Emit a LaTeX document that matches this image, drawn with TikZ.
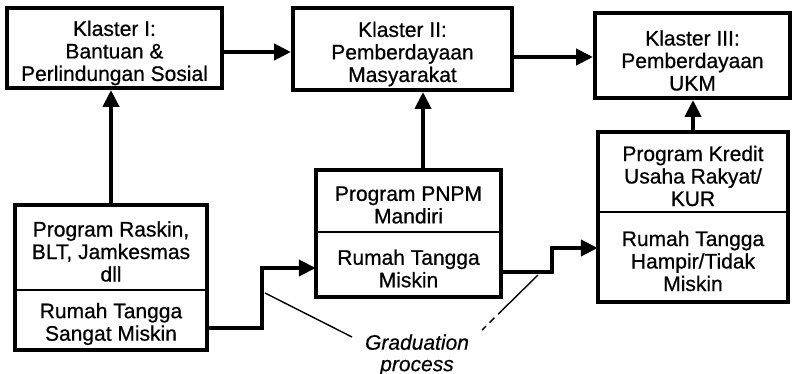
\documentclass[tikz,border=0pt]{standalone}
\usepackage{fontspec}
\setmainfont{Liberation Sans}
\newfontface\heavyfont{Liberation Sans}[FakeBold=0.6]
\newfontface\heavyital{Liberation Sans Italic}[FakeBold=0.4]
\usetikzlibrary{arrows.meta,calc}
\begin{document}
\begin{tikzpicture}[x=1pt,y=-1pt,
  txt/.style={font=\heavyfont\fontsize{21}{22.5}\selectfont, align=center, inner sep=0pt},
  area/.style={inner sep=0pt},
  kbox/.style={area, draw, line width=4pt},
  outer/.style={line width=4pt},
  divider/.style={line width=1.5pt},
  conn/.style={line width=4pt, -{Triangle[length=17pt,width=16pt]}},
  ann/.style={line width=1.4pt},
  gradtxt/.style={font=\heavyital\fontsize{21}{21.5}\selectfont, align=center, inner sep=0pt}
]
\fill[white] (0,0) rectangle (794,374);
\useasboundingbox (0,0) rectangle (794,374);

% top clusters
\node[kbox, minimum width=215pt, minimum height=80pt] (k1) at (114.5,48) {};
\node[txt] (k1t) at ([yshift=-5pt]k1.center) {Klaster I:\\Bantuan \&\\Perlindungan Sosial};
\node[kbox, minimum width=219pt, minimum height=82pt] (k2) at (402.5,49) {};
\node[txt] (k2t) at ([yshift=-5pt]k2.center) {Klaster II:\\Pemberdayaan\\Masyarakat};
\node[kbox, minimum width=195pt, minimum height=85pt] (k3) at (692.5,55.5) {};
\node[txt] (k3t) at ([yshift=-5pt]k3.center) {Klaster III:\\Pemberdayaan\\UKM};

% lower split boxes
\node[area, minimum width=192pt, minimum height=85pt] (rA) at (111,247.5) {};
\node[txt] (rAt) at ([yshift=-4pt]rA.center) {Program Raskin,\\BLT, Jamkesmas\\dll};
\node[area, minimum width=192pt, minimum height=60pt] (rB) at (111,320) {};
\node[txt] (rBt) at ([yshift=-4pt]rB.center) {Rumah Tangga\\Sangat Miskin};
\node[area, minimum width=185pt, minimum height=62pt] (pA) at (408.5,201) {};
\node[txt] (pAt) at ([yshift=-4pt]pA.center) {Program PNPM\\Mandiri};
\node[area, minimum width=185pt, minimum height=65pt] (pB) at (408.5,264.5) {};
\node[txt] (pBt) at ([yshift=-4pt]pB.center) {Rumah Tangga\\Miskin};
\node[area, minimum width=190pt, minimum height=80pt] (uA) at (693,172) {};
\node[txt] (uAt) at ([yshift=-4pt]uA.center) {Program Kredit\\Usaha Rakyat/\\KUR};
\node[area, minimum width=190pt, minimum height=90pt] (uB) at (693,257) {};
\node[txt] (uBt) at ([yshift=-4pt]uB.center) {Rumah Tangga\\Hampir/Tidak\\Miskin};

\draw[outer] (rA.north west) rectangle (rB.south east);
\draw[divider] (rA.south west) -- (rA.south east);
\draw[outer] (pA.north west) rectangle (pB.south east);
\draw[divider] (pA.south west) -- (pA.south east);
\draw[outer] (uA.north west) rectangle (uB.south east);
\draw[divider] (uA.south west) -- (uA.south east);

% horizontal arrows between clusters
\coordinate (h1) at ([yshift=-4pt]k1.east);
\draw[conn] (h1) -- (h1 -| k2.west);
\coordinate (h2) at ([yshift=-8pt]k2.east);
\draw[conn] (h2) -- (h2 -| k3.west);

% vertical arrows
\draw[conn] (rA.north) -- (rA.north |- k1.south);
\coordinate (pt) at ([xshift=14.5pt]pA.north);
\draw[conn] (pt) -- (pt |- k2.south);
\draw[conn] (uA.north) -- (uA.north |- k3.south);

% graduation steps
\coordinate (c1a) at ([yshift=-8pt]rB.east);
\coordinate (c1b) at ([yshift=-3.5pt]pB.west);
\coordinate (c1m) at ($(rB.east)!0.5!(pB.west)$);
\draw[conn] (c1a) -| (c1m |- c1b) -- (c1b);

\coordinate (c2a) at ([yshift=-7.5pt]pB.east);
\coordinate (c2b) at ([yshift=9pt]uB.west);
\coordinate (c2m) at ($(pB.east)!0.53!(uB.west)$);
\draw[conn] (c2a) -| (c2m |- c2b) -- (c2b);

% label
\node[gradtxt] (grad) at (417,355) {Graduation\\process};
\coordinate (g1) at (265,293);
\coordinate (g2) at (352,337);
\draw[ann] (g1) -- (g2);
\coordinate (g3) at (538,275);
\coordinate (g4) at (482,330);
\draw[ann, dash pattern=on 56pt off 5pt on 7pt off 5pt] (g3) -- (g4);
\end{tikzpicture}
\end{document}
